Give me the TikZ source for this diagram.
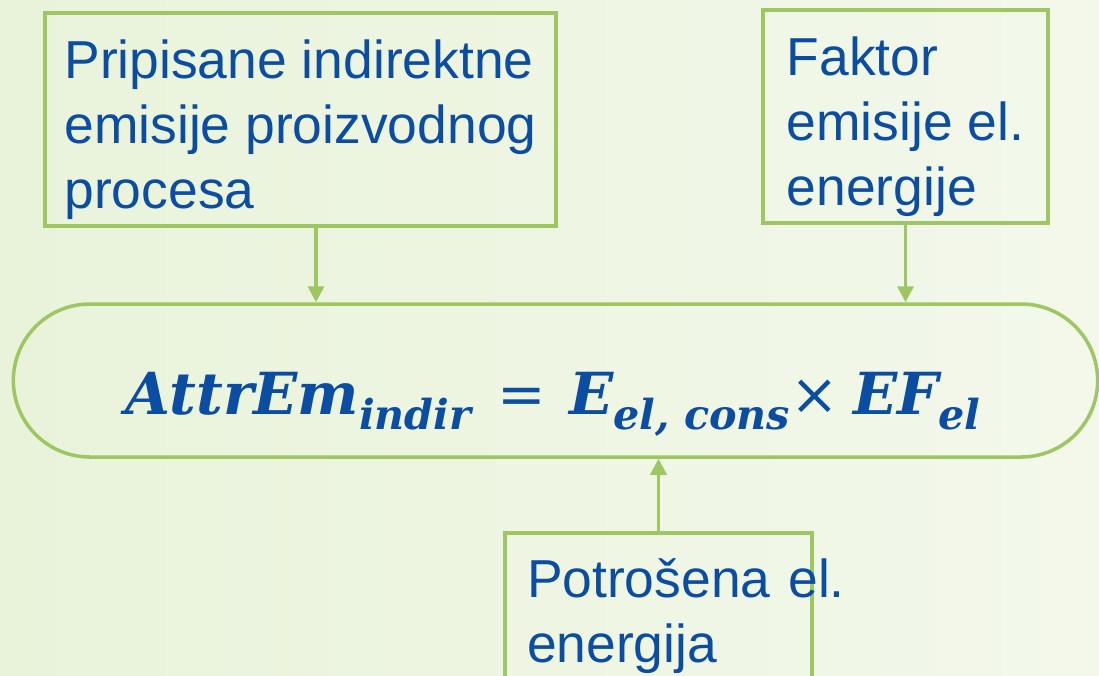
\documentclass[tikz,border=0pt]{standalone}
\usepackage{fontspec}
\setmainfont{Liberation Sans}
\newfontfamily\eqfont{DejaVu Serif}
\usepackage{xcolor}
\definecolor{cLine}{HTML}{9CC763}
\definecolor{cText}{HTML}{0B4DA2}
\definecolor{cBgA}{HTML}{E9F3DA}
\definecolor{cBgB}{HTML}{F3F8EB}
\usepackage{tikz}
\usetikzlibrary{positioning,arrows.meta,shapes.misc,calc}
\newcommand{\eqsub}[1]{\raisebox{-9pt}{\fontsize{23.5}{24}\selectfont #1}}
\newcommand{\toppad}{\rule{0pt}{34pt}}
\tikzset{
  node-box/.style={draw=cLine,line width=2pt,rectangle,align=left,
    text=cText,font=\fontsize{30.4}{37}\selectfont},
  node-eq/.style={draw=cLine,line width=2pt,rounded rectangle,
    minimum width=219.2mm,minimum height=30.6mm},
  node-formula/.style={text=cText,inner sep=0pt,anchor=base,
    font=\eqfont\fontsize{33}{40}\selectfont\bfseries\itshape},
  arrow/.style={-{Triangle[length=3.2mm,width=3.2mm]},line width=2pt,draw=cLine},
}

\begin{document}
\begin{tikzpicture}
  \useasboundingbox (0,0) rectangle (21.98,-13.5);
  \shade[left color=cBgA,right color=cBgB] (0,0) rectangle (21.98,-13.5);
  \node[node-box,minimum width=102.2mm,minimum height=42.6mm]
    (proc) at (6.01,-2.39) {\toppad Pripisane indirektne\\emisije proizvodnog\\procesa};
  \node[node-box,minimum width=57mm,minimum height=42.6mm]
    (fact) at (18.11,-2.33) {\toppad Faktor\\emisije el.\\energije};
  \node[node-eq] (eqn) at (11.11,-7.61) {};
  \node[node-box,anchor=north,text width=52.6mm,inner xsep=4.4mm,inner ysep=5.2mm]
    (cons) at (13.17,-10.62) {\mbox{Potrošena el.}\\energija};
  \node[node-formula] (form) at (11.06,-8.28)
    {AttrEm\eqsub{indir}\hspace{0.45em}{\upshape\mdseries=}\hspace{0.4em}E\eqsub{el, cons}{\upshape\mdseries×}\hspace{0.25em}EF\eqsub{el}};
  \draw[arrow] ($(proc.south)+(3.1mm,0)$) coordinate (p1) -- (p1 |- eqn.north);
  \draw[arrow] (fact.south) -- (fact.south |- eqn.north);
  \draw[arrow] (cons.north) -- (cons.north |- eqn.south);
\end{tikzpicture}
\end{document}
